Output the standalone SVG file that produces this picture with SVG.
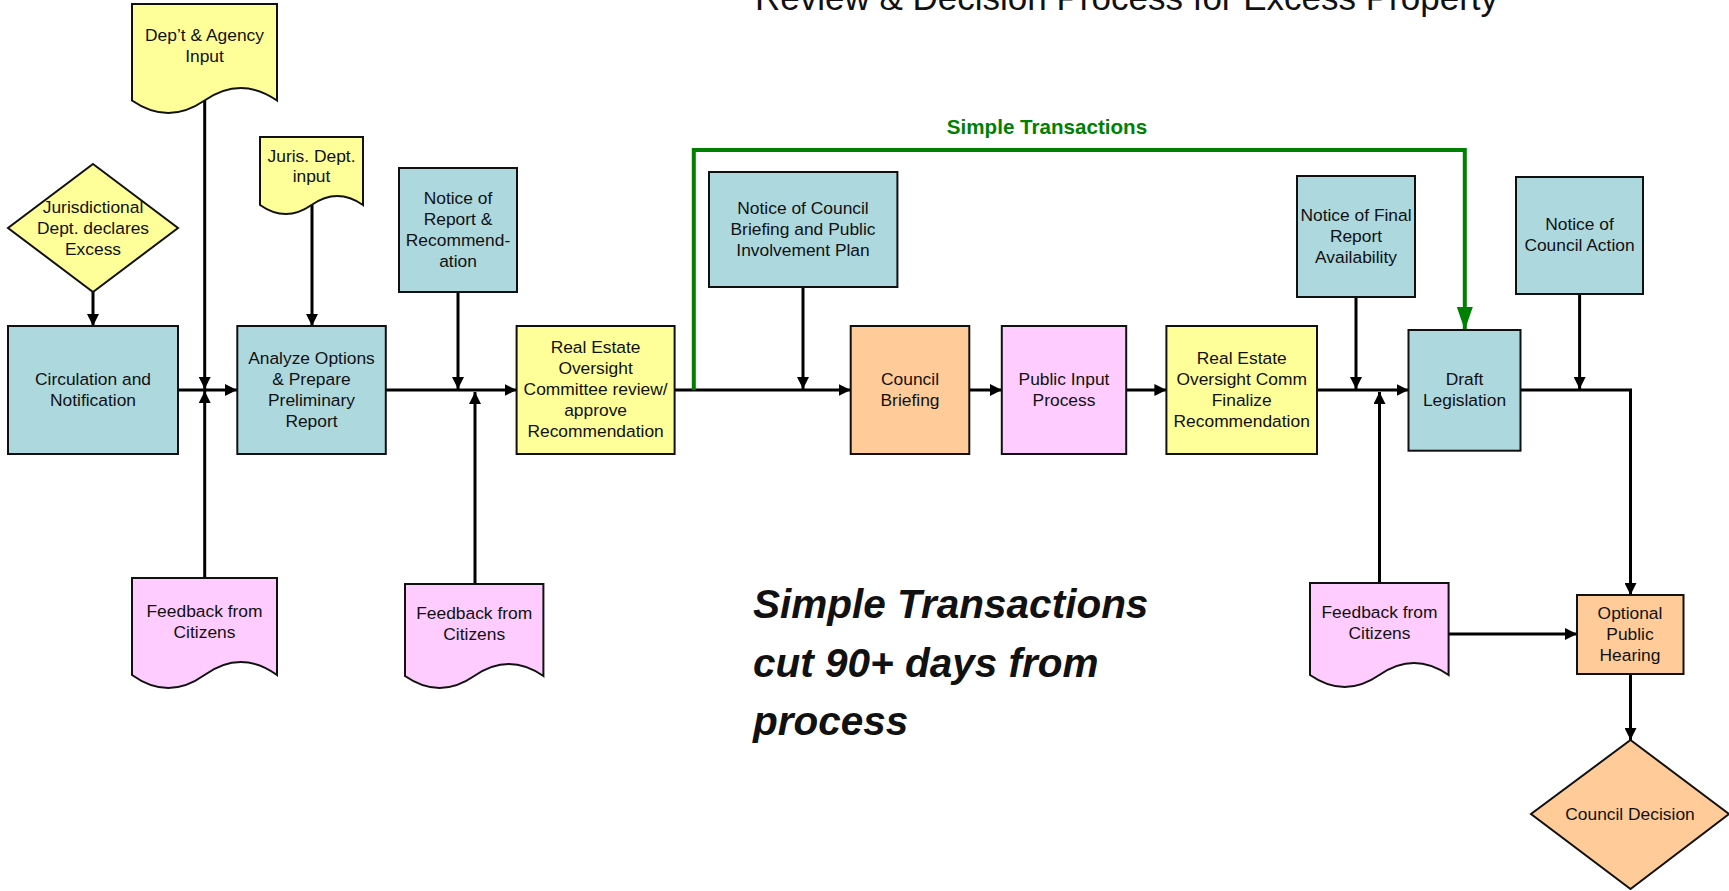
<svg xmlns="http://www.w3.org/2000/svg" width="1729" height="891" viewBox="0 0 1729 891">
<style>
.n{stroke:#111;stroke-width:2}
.b{fill:#ADD8DE}.y{fill:#FFFF99}.p{fill:#FFCCFF}.o{fill:#FFCC99}
text{font-family:"Liberation Sans",Arial,sans-serif;font-size:17.4px;fill:#111;text-anchor:middle}
.c{fill:none;stroke:#000;stroke-width:3}
.g{fill:none;stroke:#008000;stroke-width:4}
.big{font-size:40.5px;text-anchor:start;font-weight:bold;font-style:italic}
</style>
<defs>
<marker id="a" markerUnits="userSpaceOnUse" markerWidth="12" markerHeight="12" refX="12" refY="6" orient="auto"><path d="M0,0 L12,6 L0,12 z" fill="#000"/></marker>
<marker id="ag" markerUnits="userSpaceOnUse" markerWidth="24" markerHeight="18" refX="23" refY="8" orient="auto"><path d="M0,0 L23,8 L0,16 z" fill="#008000"/></marker>
</defs>
<text x="755" y="9.5" style="font-size:35px;text-anchor:start">Review &amp; Decision Process for Excess Property</text>
<text x="1047" y="134" style="font-size:20.6px;font-weight:bold;fill:#008000">Simple Transactions</text>
<g id="connectors">
<path class="c" d="M178,390 H237" marker-end="url(#a)"/>
<path class="c" d="M204.7,100 V389" marker-end="url(#a)"/>
<path class="c" d="M204.7,578 V391" marker-end="url(#a)"/>
<path class="c" d="M93,292 V326" marker-end="url(#a)"/>
<path class="c" d="M312,205 V326" marker-end="url(#a)"/>
<path class="c" d="M386,390 H516.6" marker-end="url(#a)"/>
<path class="c" d="M458,292 V389" marker-end="url(#a)"/>
<path class="c" d="M475,584 V392" marker-end="url(#a)"/>
<path class="c" d="M674.6,390 H850.7" marker-end="url(#a)"/>
<path class="c" d="M803,287 V389" marker-end="url(#a)"/>
<path class="c" d="M969.3,390 H1001.8" marker-end="url(#a)"/>
<path class="c" d="M1126.2,390 H1166.4" marker-end="url(#a)"/>
<path class="c" d="M1317,390 H1408.5" marker-end="url(#a)"/>
<path class="c" d="M1356,297 V389" marker-end="url(#a)"/>
<path class="c" d="M1379.5,583 V392" marker-end="url(#a)"/>
<path class="c" d="M1579.6,294 V389" marker-end="url(#a)"/>
<path class="c" d="M1520.5,390 H1630.5 V595" marker-end="url(#a)"/>
<path class="c" d="M1448.6,634 H1577" marker-end="url(#a)"/>
<path class="c" d="M1630.5,674 V740" marker-end="url(#a)"/>
<path class="g" d="M693.8,390 V150 H1464.8 V330" marker-end="url(#ag)"/>
</g>
<g id="dept-agency-input">
<path class="n y" d="M132,4 H277 V100.5 Q240.75,75.5 204.5,100.5 T132,100.5 Z"/>
<text x="204.5" y="41">Dep’t &amp; Agency</text><text x="204.5" y="62">Input</text>
</g>
<g id="jurisdictional">
<path class="n y" d="M93,164 L178,228 L93,292 L8,228 Z"/>
<text x="93" y="213">Jurisdictional</text><text x="93" y="234">Dept. declares</text><text x="93" y="255">Excess</text>
</g>
<g id="circulation">
<rect class="n b" x="8" y="326" width="170" height="128"/>
<text x="93" y="385">Circulation and</text><text x="93" y="406">Notification</text>
</g>
<g id="juris-input">
<path class="n y" d="M260,137 H363 V205 Q337.25,187 311.5,205 T260,205 Z"/>
<text x="311.5" y="162">Juris. Dept.</text><text x="311.5" y="182">input</text>
</g>
<g id="analyze">
<rect class="n b" x="237.3" y="326" width="148.5" height="128"/>
<text x="311.5" y="364">Analyze Options</text><text x="311.5" y="385">&amp; Prepare</text><text x="311.5" y="406">Preliminary</text><text x="311.5" y="427">Report</text>
</g>
<g id="notice-report">
<rect class="n b" x="399" y="168" width="118" height="124"/>
<text x="458" y="204">Notice of</text><text x="458" y="225">Report &amp;</text><text x="458" y="246">Recommend-</text><text x="458" y="267">ation</text>
</g>
<g id="reoc-review">
<rect class="n y" x="516.6" y="326" width="158" height="128"/>
<text x="595.6" y="353">Real Estate</text><text x="595.6" y="374">Oversight</text><text x="595.6" y="395">Committee review/</text><text x="595.6" y="416">approve</text><text x="595.6" y="437">Recommendation</text>
</g>
<g id="notice-briefing">
<rect class="n b" x="709" y="172" width="188.4" height="115"/>
<text x="803" y="214">Notice of Council</text><text x="803" y="235">Briefing and Public</text><text x="803" y="256">Involvement Plan</text>
</g>
<g id="council-briefing">
<rect class="n o" x="850.7" y="326" width="118.6" height="128"/>
<text x="910" y="385">Council</text><text x="910" y="406">Briefing</text>
</g>
<g id="public-input">
<rect class="n p" x="1001.8" y="326" width="124.4" height="128"/>
<text x="1064" y="385">Public Input</text><text x="1064" y="406">Process</text>
</g>
<g id="reoc-finalize">
<rect class="n y" x="1166.4" y="326" width="150.6" height="128"/>
<text x="1241.7" y="364">Real Estate</text><text x="1241.7" y="385">Oversight Comm</text><text x="1241.7" y="406">Finalize</text><text x="1241.7" y="427">Recommendation</text>
</g>
<g id="notice-final">
<rect class="n b" x="1297" y="176" width="118" height="121"/>
<text x="1356" y="221">Notice of Final</text><text x="1356" y="242">Report</text><text x="1356" y="263">Availability</text>
</g>
<g id="draft-legislation">
<rect class="n b" x="1408.5" y="330" width="112" height="120.7"/>
<text x="1464.5" y="385">Draft</text><text x="1464.5" y="406">Legislation</text>
</g>
<g id="notice-action">
<rect class="n b" x="1516" y="177" width="127" height="117"/>
<text x="1579.5" y="230">Notice of</text><text x="1579.5" y="251">Council Action</text>
</g>
<g id="feedback-1">
<path class="n p" d="M132,578 H277 V675 Q240.75,649 204.5,675 T132,675 Z"/>
<text x="204.5" y="617">Feedback from</text><text x="204.5" y="638">Citizens</text>
</g>
<g id="feedback-2">
<path class="n p" d="M405,584 H543.4 V676 Q508.8,652 474.2,676 T405,676 Z"/>
<text x="474.2" y="619">Feedback from</text><text x="474.2" y="640">Citizens</text>
</g>
<g id="feedback-3">
<path class="n p" d="M1310,583 H1448.6 V675 Q1414,651 1379.3,675 T1310,675 Z"/>
<text x="1379.5" y="618">Feedback from</text><text x="1379.5" y="639">Citizens</text>
</g>
<g id="optional-hearing">
<rect class="n o" x="1577" y="595" width="106.5" height="79"/>
<text x="1630" y="619">Optional</text><text x="1630" y="640">Public</text><text x="1630" y="661">Hearing</text>
</g>
<g id="council-decision">
<path class="n o" d="M1630.5,740 L1729,814 L1630.5,889 L1531,814 Z"/>
<text x="1630" y="820">Council Decision</text>
</g>
<g id="note">
<text class="big" x="753" y="618">Simple Transactions</text>
<text class="big" x="753" y="677">cut 90+ days from</text>
<text class="big" x="753" y="735">process</text>
</g>
</svg>
